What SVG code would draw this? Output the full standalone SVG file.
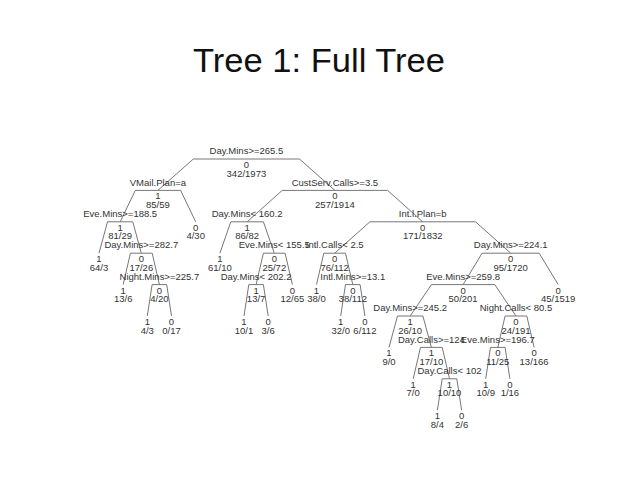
<svg xmlns="http://www.w3.org/2000/svg" width="638" height="479" viewBox="0 0 638 479">
<style>
.t{font-family:"Liberation Sans",Arial,sans-serif;font-size:9.5px;fill:#333;text-anchor:middle}
.ttl{font-family:"Liberation Sans",Arial,sans-serif;font-size:34px;fill:#111;text-anchor:middle}
.br{fill:none;stroke:#777;stroke-width:1}
</style>
<rect width="638" height="479" fill="#fff"/>
<text class="ttl" x="319" y="72" textLength="252" lengthAdjust="spacingAndGlyphs">Tree 1: Full Tree</text>
<g id="connectors">
<path class="br" d="M157.9,190.4 L193.3,159 L299.5,159 L334.9,190.4"/>
<path class="br" d="M120.2,221.8 L135.3,190.4 L180.6,190.4 L195.7,221.8"/>
<path class="br" d="M99,253.2 L107.5,221.8 L132.8,221.8 L141.3,253.2"/>
<path class="br" d="M123.2,284.6 L130.4,253.2 L152.2,253.2 L159.4,284.6"/>
<path class="br" d="M147.3,316 L152.1,284.6 L166.7,284.6 L171.5,316"/>
<path class="br" d="M247.1,221.8 L282.2,190.4 L387.6,190.4 L422.7,221.8"/>
<path class="br" d="M219.9,253.2 L230.8,221.8 L263.4,221.8 L274.3,253.2"/>
<path class="br" d="M256.1,284.6 L263.4,253.2 L285.1,253.2 L292.4,284.6"/>
<path class="br" d="M244,316 L248.8,284.6 L263.4,284.6 L268.2,316"/>
<path class="br" d="M334.7,253.2 L369.9,221.8 L475.5,221.8 L510.7,253.2"/>
<path class="br" d="M316.5,284.6 L323.8,253.2 L345.5,253.2 L352.8,284.6"/>
<path class="br" d="M340.7,316 L345.5,284.6 L360.1,284.6 L364.9,316"/>
<path class="br" d="M463.1,284.6 L482.1,253.2 L539.2,253.2 L558.2,284.6"/>
<path class="br" d="M410.2,316 L431.4,284.6 L494.8,284.6 L516,316"/>
<path class="br" d="M389,347.4 L397.5,316 L422.9,316 L431.4,347.4"/>
<path class="br" d="M413.2,378.8 L420.5,347.4 L442.2,347.4 L449.5,378.8"/>
<path class="br" d="M437.4,410.2 L442.2,378.8 L456.8,378.8 L461.6,410.2"/>
<path class="br" d="M497.8,347.4 L505.1,316 L526.8,316 L534.1,347.4"/>
<path class="br" d="M485.7,378.8 L490.5,347.4 L505.1,347.4 L509.9,378.8"/>
</g>
<g id="n_root"><text class="t" x="246.4" y="154.2">Day.Mins&gt;=265.5</text><text class="t" x="246.4" y="168">0</text><text class="t" x="246.4" y="176.5">342/1973</text></g>
<g id="n_vmail"><text class="t" x="157.9" y="185.6">VMail.Plan=a</text><text class="t" x="157.9" y="199.4">1</text><text class="t" x="157.9" y="207.9">85/59</text></g>
<g id="n_eve188"><text class="t" x="120.2" y="217">Eve.Mins&gt;=188.5</text><text class="t" x="120.2" y="230.8">1</text><text class="t" x="120.2" y="239.3">81/29</text></g>
<g id="n_day282"><text class="t" x="141.3" y="248.4">Day.Mins&gt;=282.7</text><text class="t" x="141.3" y="262.2">0</text><text class="t" x="141.3" y="270.7">17/26</text></g>
<g id="n_night225"><text class="t" x="159.4" y="279.8">Night.Mins&gt;=225.7</text><text class="t" x="159.4" y="293.6">0</text><text class="t" x="159.4" y="302.1">4/20</text></g>
<g id="n_cust"><text class="t" x="334.9" y="185.6">CustServ.Calls&gt;=3.5</text><text class="t" x="334.9" y="199.4">0</text><text class="t" x="334.9" y="207.9">257/1914</text></g>
<g id="n_day160"><text class="t" x="247.1" y="217">Day.Mins&lt; 160.2</text><text class="t" x="247.1" y="230.8">1</text><text class="t" x="247.1" y="239.3">86/82</text></g>
<g id="n_eve155"><text class="t" x="274.3" y="248.4">Eve.Mins&lt; 155.5</text><text class="t" x="274.3" y="262.2">0</text><text class="t" x="274.3" y="270.7">25/72</text></g>
<g id="n_day202"><text class="t" x="256.1" y="279.8">Day.Mins&lt; 202.2</text><text class="t" x="256.1" y="293.6">1</text><text class="t" x="256.1" y="302.1">13/7</text></g>
<g id="n_intlplan"><text class="t" x="422.7" y="217">Int.l.Plan=b</text><text class="t" x="422.7" y="230.8">0</text><text class="t" x="422.7" y="239.3">171/1832</text></g>
<g id="n_intlcalls"><text class="t" x="334.7" y="248.4">Intl.Calls&lt; 2.5</text><text class="t" x="334.7" y="262.2">0</text><text class="t" x="334.7" y="270.7">76/112</text></g>
<g id="n_intlmins"><text class="t" x="352.8" y="279.8">Intl.Mins&gt;=13.1</text><text class="t" x="352.8" y="293.6">0</text><text class="t" x="352.8" y="302.1">38/112</text></g>
<g id="n_day224"><text class="t" x="510.7" y="248.4">Day.Mins&gt;=224.1</text><text class="t" x="510.7" y="262.2">0</text><text class="t" x="510.7" y="270.7">95/1720</text></g>
<g id="n_eve259"><text class="t" x="463.1" y="279.8">Eve.Mins&gt;=259.8</text><text class="t" x="463.1" y="293.6">0</text><text class="t" x="463.1" y="302.1">50/201</text></g>
<g id="n_day245"><text class="t" x="410.2" y="311.2">Day.Mins&gt;=245.2</text><text class="t" x="410.2" y="325">1</text><text class="t" x="410.2" y="333.5">26/10</text></g>
<g id="n_dcalls124"><text class="t" x="431.4" y="342.6">Day.Calls&gt;=124</text><text class="t" x="431.4" y="356.4">1</text><text class="t" x="431.4" y="364.9">17/10</text></g>
<g id="n_dcalls102"><text class="t" x="449.5" y="374">Day.Calls&lt; 102</text><text class="t" x="449.5" y="387.8">1</text><text class="t" x="449.5" y="396.3">10/10</text></g>
<g id="n_ncalls"><text class="t" x="516" y="311.2">Night.Calls&lt; 80.5</text><text class="t" x="516" y="325">0</text><text class="t" x="516" y="333.5">24/191</text></g>
<g id="n_eve196"><text class="t" x="497.8" y="342.6">Eve.Mins&gt;=196.7</text><text class="t" x="497.8" y="356.4">0</text><text class="t" x="497.8" y="364.9">11/25</text></g>
<g id="leaf0"><text class="t" x="99" y="262.2">1</text><text class="t" x="99" y="270.7">64/3</text></g>
<g id="leaf1"><text class="t" x="123.2" y="293.6">1</text><text class="t" x="123.2" y="302.1">13/6</text></g>
<g id="leaf2"><text class="t" x="147.3" y="325">1</text><text class="t" x="147.3" y="333.5">4/3</text></g>
<g id="leaf3"><text class="t" x="171.5" y="325">0</text><text class="t" x="171.5" y="333.5">0/17</text></g>
<g id="leaf4"><text class="t" x="195.7" y="230.8">0</text><text class="t" x="195.7" y="239.3">4/30</text></g>
<g id="leaf5"><text class="t" x="219.9" y="262.2">1</text><text class="t" x="219.9" y="270.7">61/10</text></g>
<g id="leaf6"><text class="t" x="244" y="325">1</text><text class="t" x="244" y="333.5">10/1</text></g>
<g id="leaf7"><text class="t" x="268.2" y="325">0</text><text class="t" x="268.2" y="333.5">3/6</text></g>
<g id="leaf8"><text class="t" x="292.4" y="293.6">0</text><text class="t" x="292.4" y="302.1">12/65</text></g>
<g id="leaf9"><text class="t" x="316.5" y="293.6">1</text><text class="t" x="316.5" y="302.1">38/0</text></g>
<g id="leaf10"><text class="t" x="340.7" y="325">1</text><text class="t" x="340.7" y="333.5">32/0</text></g>
<g id="leaf11"><text class="t" x="364.9" y="325">0</text><text class="t" x="364.9" y="333.5">6/112</text></g>
<g id="leaf12"><text class="t" x="389" y="356.4">1</text><text class="t" x="389" y="364.9">9/0</text></g>
<g id="leaf13"><text class="t" x="413.2" y="387.8">1</text><text class="t" x="413.2" y="396.3">7/0</text></g>
<g id="leaf14"><text class="t" x="437.4" y="419.2">1</text><text class="t" x="437.4" y="427.7">8/4</text></g>
<g id="leaf15"><text class="t" x="461.6" y="419.2">0</text><text class="t" x="461.6" y="427.7">2/6</text></g>
<g id="leaf16"><text class="t" x="485.7" y="387.8">1</text><text class="t" x="485.7" y="396.3">10/9</text></g>
<g id="leaf17"><text class="t" x="509.9" y="387.8">0</text><text class="t" x="509.9" y="396.3">1/16</text></g>
<g id="leaf18"><text class="t" x="534.1" y="356.4">0</text><text class="t" x="534.1" y="364.9">13/166</text></g>
<g id="leaf19"><text class="t" x="558.2" y="293.6">0</text><text class="t" x="558.2" y="302.1">45/1519</text></g>
</svg>
